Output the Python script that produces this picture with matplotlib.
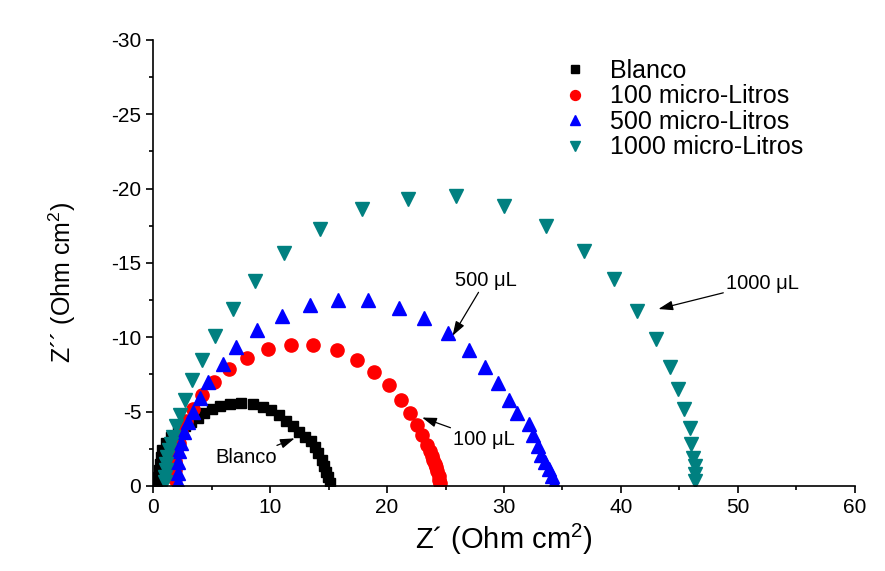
import matplotlib
matplotlib.use("Agg")
import matplotlib.pyplot as plt
from matplotlib.ticker import MultipleLocator

plt.rcParams['font.family'] = ['Liberation Sans', 'DejaVu Sans']
plt.rcParams['mathtext.fontset'] = 'custom'
plt.rcParams['mathtext.rm'] = 'Liberation Sans'
plt.rcParams['mathtext.it'] = 'Liberation Sans'
plt.rcParams['axes.unicode_minus'] = False

# Blanco (black squares)
blanco_x = [15.1, 14.96, 14.8, 14.6, 14.4, 14.1, 13.8, 13.5, 13.0, 12.5, 12.0, 11.4,
            10.8, 10.1, 9.4, 8.55, 7.55, 6.55, 5.7, 5.0, 4.36, 3.85, 3.27, 2.7, 2.14,
            1.57, 1.14, 0.8, 0.65, 0.55, 0.5, 0.45, 0.45]
blanco_y = [-0.18, -0.58, -0.96, -1.35, -1.75, -2.2, -2.6, -3.0, -3.3, -3.65, -4.0, -4.4,
            -4.8, -5.1, -5.3, -5.5, -5.56, -5.5, -5.4, -5.15, -4.9, -4.6, -4.3, -4.0, -3.65,
            -3.3, -2.9, -2.4, -1.97, -1.5, -1.1, -0.63, -0.18]

# 100 micro-Litros (red circles)
r100_x = [24.5, 24.45, 24.4, 24.3, 24.2, 24.1, 23.95, 23.85, 23.7, 23.45, 23.0, 22.6,
          22.0, 21.2, 20.2, 18.9, 17.45, 15.7, 13.7, 11.8, 9.8, 8.0, 6.5, 5.2, 4.2,
          3.4, 2.8, 2.4, 2.2, 2.0, 1.9, 1.85, 1.85]
r100_y = [-0.18, -0.4, -0.65, -1.0, -1.25, -1.5, -1.75, -2.0, -2.35, -2.75, -3.4, -4.1,
          -4.9, -5.8, -6.8, -7.65, -8.5, -9.15, -9.5, -9.5, -9.2, -8.6, -7.85, -7.0, -6.1,
          -5.2, -4.4, -3.6, -2.9, -2.35, -1.7, -1.1, -0.45]

# 500 micro-Litros (blue up triangles)
r500_x = [34.3, 34.1, 33.85, 33.5, 33.2, 32.9, 32.5, 32.1, 31.1, 30.4, 29.5, 28.4,
          27.0, 25.2, 23.2, 21.0, 18.4, 15.8, 13.4, 11.0, 8.9, 7.1, 6.0, 4.7, 4.0,
          3.4, 2.95, 2.6, 2.4, 2.25, 2.15, 2.1, 2.1]
r500_y = [-0.22, -0.67, -1.17, -1.6, -2.1, -2.7, -3.4, -4.15, -4.9, -5.8, -6.9, -8.0,
          -9.15, -10.3, -11.3, -12.0, -12.5, -12.5, -12.2, -11.4, -10.5, -9.35, -8.2, -7.0, -5.9,
          -5.0, -4.3, -3.6, -2.9, -2.35, -1.6, -0.9, -0.25]

# 1000 micro-Litros (teal down triangles)
r1000_x = [46.3, 46.3, 46.3, 46.2, 46.0, 45.9, 45.4, 44.9, 44.2, 43.0, 41.4, 39.4,
           36.8, 33.6, 30.0, 25.9, 21.8, 17.9, 14.3, 11.2, 8.7, 6.8, 5.3, 4.2, 3.35,
           2.7, 2.28, 2.0, 1.7, 1.5, 1.35, 1.23, 1.14, 1.08, 1.05, 1.05]
r1000_y = [-0.34, -0.78, -1.35, -1.9, -2.8, -3.9, -5.2, -6.5, -8.0, -9.9, -11.8, -13.9,
           -15.8, -17.5, -18.8, -19.5, -19.3, -18.6, -17.3, -15.7, -13.8, -11.9, -10.1, -8.5, -7.1,
           -5.8, -4.8, -4.0, -3.3, -2.8, -2.4, -1.97, -1.5, -1.1, -0.6, -0.25]

fig = plt.figure(figsize=(8.85, 5.71), dpi=100)
ax = fig.add_axes([0.173, 0.149, 0.793, 0.781])

ax.plot(blanco_x, blanco_y, ls='none', marker='s', ms=7.5, color='black', label='Blanco')
ax.plot(r100_x, r100_y, ls='none', marker='o', ms=9.5, color='red', label='100 micro-Litros')
ax.plot(r500_x, r500_y, ls='none', marker='^', ms=10.5, color='blue', label='500 micro-Litros')
ax.plot(r1000_x, r1000_y, ls='none', marker='v', ms=10.5, color='#008080', label='1000 micro-Litros')

ax.set_xlim(0, 60)
ax.set_ylim(0, -30)
ax.xaxis.set_major_locator(MultipleLocator(10))
ax.xaxis.set_minor_locator(MultipleLocator(5))
ax.yaxis.set_major_locator(MultipleLocator(5))
ax.yaxis.set_minor_locator(MultipleLocator(2.5))
ax.tick_params(which='major', direction='out', length=5, width=1.2, labelsize=15)
ax.tick_params(which='minor', direction='out', length=3, width=1.2)
for s in ['top', 'right']:
    ax.spines[s].set_visible(False)
for s in ['left', 'bottom']:
    ax.spines[s].set_linewidth(1.2)

ax.set_xlabel('Z´ (Ohm cm$^{2}$)', fontsize=21, labelpad=4)
ax.set_ylabel('Z´´ (Ohm cm$^{2}$)', fontsize=18)
ax.yaxis.set_label_coords(-0.107, 0.457)

ax.legend(loc='upper left', bbox_to_anchor=(0.555, 0.997), frameon=False, fontsize=18,
          handlelength=1.2, handletextpad=0.8, labelspacing=0.06, borderpad=0.2,
          markerscale=0.75)

arrow = dict(arrowstyle='-|>,head_length=0.6,head_width=0.2', color='black', lw=0.9,
             shrinkA=0, shrinkB=0)
ax.annotate('Blanco', xy=(12.1, -3.2), xytext=(7.95, -1.9), fontsize=14.5,
            ha='center', va='center', arrowprops=arrow)
ax.annotate('100 μL', xy=(23.0, -4.6), xytext=(28.3, -3.1), fontsize=14.5,
            ha='center', va='center', arrowprops=arrow)
ax.annotate('500 μL', xy=(25.6, -10.1), xytext=(28.45, -13.85), fontsize=14.5,
            ha='center', va='center', arrowprops=arrow)
ax.annotate('1000 μL', xy=(43.2, -11.9), xytext=(52.1, -13.65), fontsize=14.5,
            ha='center', va='center', arrowprops=arrow)

fig.savefig('out.png', dpi=100)
